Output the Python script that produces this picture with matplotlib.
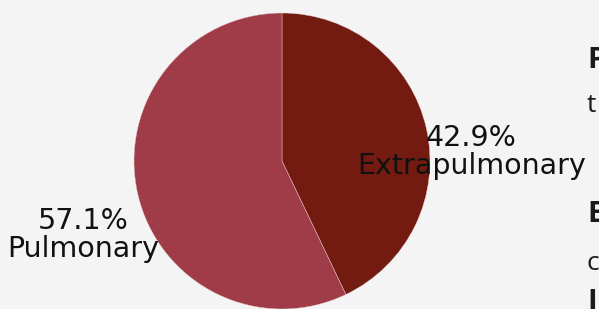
import matplotlib
matplotlib.use("Agg")
import matplotlib.pyplot as plt
import numpy as np

categories = ["Extrapulmonary", "Pulmonary"]
values = [42.9, 57.1]
colors = ["#731b10", "#a03c48"]
side_texts = ["P", "t", "E", "c", "I"]
side_bold = [True, False, True, False, True]

W, H = 599, 309
fig = plt.figure(figsize=(W / 100, H / 100), dpi=100, facecolor="#f4f4f4")
cx, cy, r = 282, 148, 148
ax = fig.add_axes([(cx - r) / W, (cy - r) / H, 2 * r / W, 2 * r / H])
ax.set_facecolor("#f4f4f4")
wedges, _ = ax.pie(values, colors=colors, startangle=90, counterclock=False,
                   wedgeprops=dict(linewidth=0.3, edgecolor="#e8d0d0"))
ax.set_xlim(-1, 1)
ax.set_ylim(-1, 1)
ax.set_aspect("equal")
ax.axis("off")

label_pos = [(1.28, 0.06), (-1.34, -0.50)]
total = sum(values)
for cat, v, (lx, ly) in zip(categories, values, label_pos):
    ax.text(lx, ly, f"{v / total * 100:.1f}%\n{cat}", ha="center", va="center",
            fontsize=20.5, linespacing=1.0, color="#111111", clip_on=False,
            family="DejaVu Sans")

side_y = [248, 203, 94, 46, 6]
for t, b, y in zip(side_texts, side_bold, side_y):
    fig.text(587 / W, y / H, t, fontsize=21 if b else 19,
             fontweight="bold" if b else "normal", color="#1a1a1a",
             ha="left", va="center", family="Open Sans")

fig.savefig("out.png", dpi=100, facecolor=fig.get_facecolor())
